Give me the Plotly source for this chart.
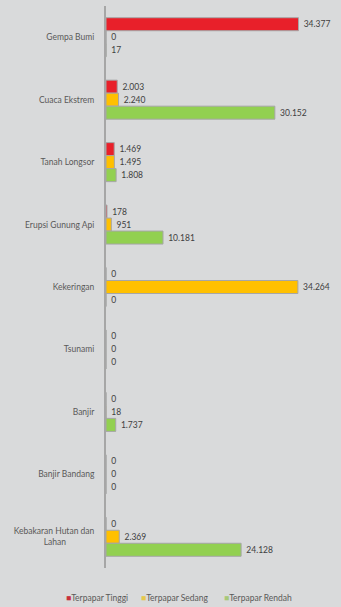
import plotly.graph_objects as go

categories = ["Gempa Bumi", "Cuaca Ekstrem", "Tanah Longsor", "Erupsi Gunung Api",
              "Kekeringan", "Tsunami", "Banjir", "Banjir Bandang",
              "Kebakaran Hutan dan<br>Lahan" + "\u00a0" * 13]
tinggi = [34377, 2003, 1469, 178, 0, 0, 0, 0, 0]
sedang = [0, 2240, 1495, 951, 34264, 0, 18, 0, 2369]
rendah = [17, 30152, 1808, 10181, 0, 0, 1737, 0, 24128]
series_names = ["Terpapar Tinggi", "Terpapar Sedang", "Terpapar Rendah"]
colors = ["#e8202a", "#ffc000", "#92d050"]
legend_colors = ["#c8303c", "#e6c84a", "#a8c878"]

fig = go.Figure()
for name, vals, col in zip(series_names, [tinggi, sedang, rendah], colors):
    fig.add_trace(go.Bar(
        y=categories, x=vals, name=name, orientation="h",
        marker=dict(color=col, line=dict(color="#a6a6a6", width=1)),
        texttemplate="\u00a0%{x:,}", textposition="outside", cliponaxis=False,
        textfont=dict(size=8.5, color="#404040", family="Lato"),
        hoverinfo="x+name", showlegend=False,
    ))

# legend drawn as annotations (small squares close to the text, like the reference)
legend_x = [-0.04, 0.31, 0.68]
for name, col, lx in zip(series_names, legend_colors, legend_x):
    fig.add_annotation(
        xref="paper", yref="paper", x=lx, y=-0.053, xanchor="center", yanchor="middle",
        text=f"<span style='color:{col}'>■</span>{name}", showarrow=False,
        font=dict(size=8.5, color="#595959", family="Lato"),
    )

fig.update_layout(
    width=341, height=607,
    barmode="group", bargap=0.375, bargroupgap=0,
    separators=",.",
    paper_bgcolor="#d9dadb", plot_bgcolor="#d9dadb",
    margin=dict(l=106, r=11, t=6, b=39, autoexpand=False),
    font=dict(family="Lato", size=8.5, color="#595959"),
    showlegend=False,
    xaxis=dict(range=[0, 40000], showgrid=False, zeroline=False,
               showticklabels=False, showline=False, fixedrange=True,
               automargin=False),
    yaxis=dict(autorange="reversed", showgrid=False, zeroline=False,
               showline=True, linecolor="#a6a6a6", linewidth=2,
               ticks="", ticklabelstandoff=8, fixedrange=True, automargin=False,
               tickfont=dict(size=8.5, color="#595959")),
)

fig.write_html(
    "out.html",
    config={"displayModeBar": False},
    post_script="document.body.style.margin='0';document.body.style.background='#d9dadb';",
)
